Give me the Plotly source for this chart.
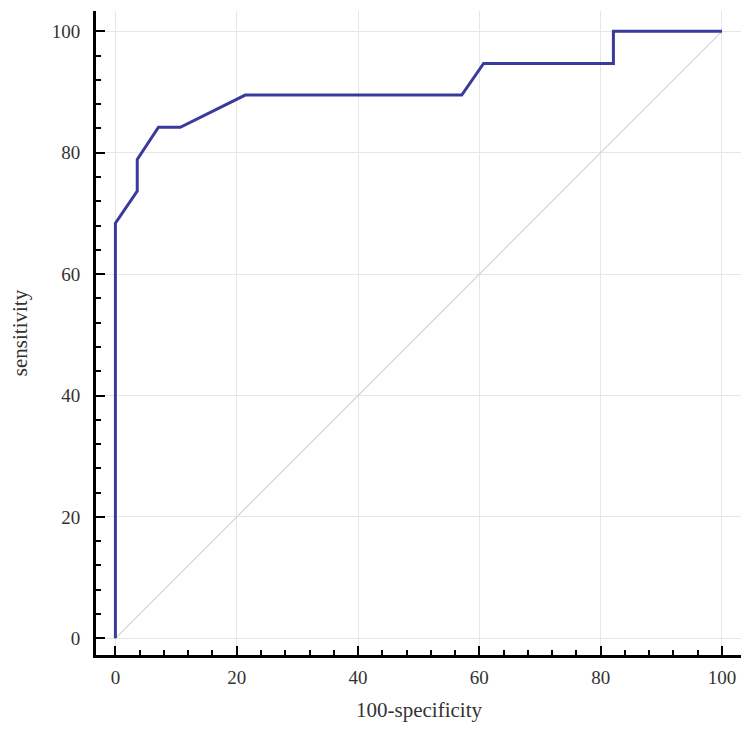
import plotly.graph_objects as go

# ROC curve points
fpr = [0, 0, 3.6, 3.6, 7.1, 10.7, 21.4, 57.1, 60.7, 82.1, 82.1, 100]
tpr = [0, 68.4, 73.7, 78.9, 84.2, 84.2, 89.5, 89.5, 94.7, 94.7, 100, 100]

diag_x = [0, 100]
diag_y = [0, 100]

tick_vals = [0, 20, 40, 60, 80, 100]

fig = go.Figure()

fig.add_trace(go.Scatter(x=diag_x, y=diag_y, mode="lines",
                         line=dict(color="#d4d4d4", width=1.2), hoverinfo="skip"))

fig.add_trace(go.Scatter(x=fpr, y=tpr, mode="lines",
                         line=dict(color="#3a3a9c", width=3)))

axis_common = dict(
    tickvals=tick_vals,
    ticks="inside",
    ticklen=9,
    tickwidth=2,
    tickcolor="black",
    showline=True,
    linecolor="black",
    linewidth=3,
    showgrid=True,
    gridcolor="#e6e6e6",
    gridwidth=1,
    zeroline=False,
    automargin=False,
    minor=dict(dtick=4, ticks="inside", ticklen=5, tickwidth=1.5,
               tickcolor="black", showgrid=False),
    tickfont=dict(family="Liberation Serif", size=19, color="#333333"),
)

# page body has an 8px margin, so the figure is a bit smaller and shifted
fig.update_layout(
    width=741,
    height=722,
    showlegend=False,
    paper_bgcolor="white",
    plot_bgcolor="white",
    margin=dict(l=88, r=7, t=3, b=75),
    font=dict(family="Liberation Serif", size=16, color="#333333"),
    xaxis=dict(range=[-3.2, 103.3], ticklabelstandoff=3,
               title=dict(text="100-specificity", standoff=16,
                          font=dict(family="Liberation Serif", size=21)),
               **axis_common),
    yaxis=dict(range=[-2.75, 103.35], ticklabelstandoff=9,
               title=dict(text="sensitivity", standoff=26,
                          font=dict(family="Liberation Serif", size=21)),
               **axis_common),
)

fig.write_html("out.html")
